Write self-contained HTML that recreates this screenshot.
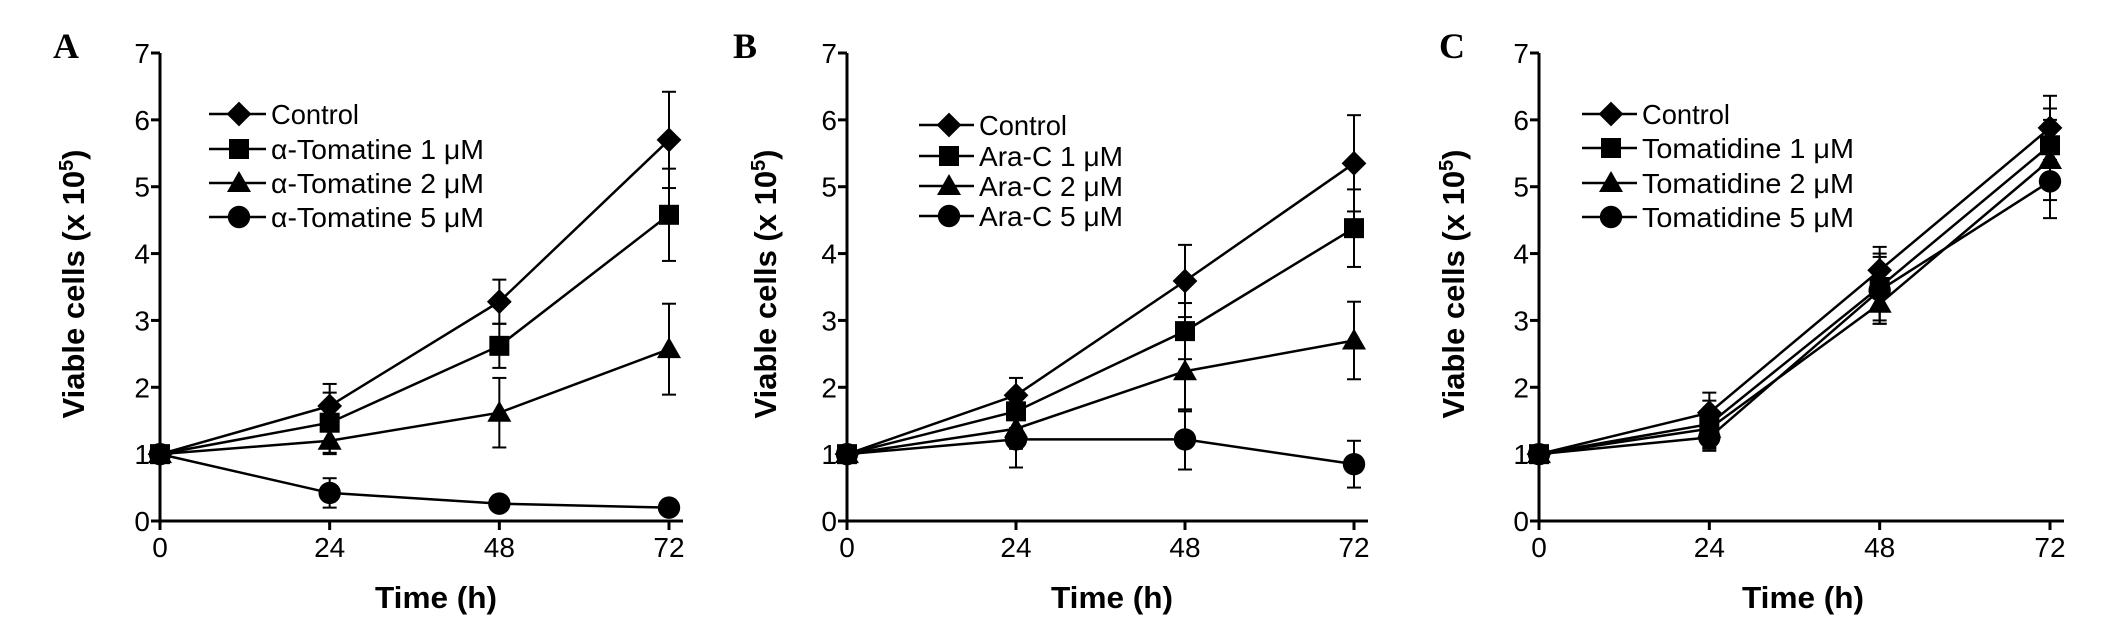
<!DOCTYPE html>
<html><head><meta charset="utf-8"><style>
html,body{margin:0;padding:0;background:#fff;}
svg{display:block;}
text{font-family:"Liberation Sans",sans-serif;fill:#000;}
</style></head><body>
<svg id="fig" width="2126" height="628" viewBox="0 0 2126 628" xmlns="http://www.w3.org/2000/svg"></svg>
<script>
const timePoints = [0, 24, 48, 72];
const yTicks = [0, 1, 2, 3, 4, 5, 6, 7];
const markerShapes = ["diamond", "square", "triangle", "circle"];

const labelsA = ["Control", "α-Tomatine 1 μM", "α-Tomatine 2 μM", "α-Tomatine 5 μM"];
const controlA = [1, 1.72, 3.28, 5.7];
const tom1A = [1, 1.47, 2.62, 4.58];
const tom2A = [1, 1.2, 1.62, 2.57];
const tom5A = [1, 0.42, 0.26, 0.2];
const errControlA = [0, 0.33, 0.33, 0.72];
const errTom1A = [0, 0.45, 0.33, 0.69];
const errTom2A = [0, 0.2, 0.52, 0.68];
const errTom5A = [0, 0.22, 0.05, 0.05];

const labelsB = ["Control", "Ara-C 1 μM", "Ara-C 2 μM", "Ara-C 5 μM"];
const controlB = [1, 1.88, 3.59, 5.35];
const ara1B = [1, 1.64, 2.84, 4.38];
const ara2B = [1, 1.38, 2.24, 2.7];
const ara5B = [1, 1.22, 1.22, 0.85];
const errControlB = [0, 0.26, 0.54, 0.72];
const errAra1B = [0, 0.25, 0.42, 0.58];
const errAra2B = [0, 0.3, 0.6, 0.58];
const errAra5B = [0, 0.42, 0.45, 0.35];

const labelsC = ["Control", "Tomatidine 1 μM", "Tomatidine 2 μM", "Tomatidine 5 μM"];
const controlC = [1, 1.62, 3.75, 5.88];
const tomd1C = [1, 1.45, 3.5, 5.62];
const tomd2C = [1, 1.38, 3.25, 5.4];
const tomd5C = [1, 1.25, 3.45, 5.08];
const errControlC = [0, 0.3, 0.35, 0.48];
const errTomd1C = [0, 0.35, 0.5, 0.55];
const errTomd2C = [0, 0.3, 0.3, 0.6];
const errTomd5C = [0, 0.2, 0.5, 0.55];

const NS = "http://www.w3.org/2000/svg";
const svg = document.getElementById("fig");
function el(tag, attrs, parent) {
  const e = document.createElementNS(NS, tag);
  for (const k in attrs) e.setAttribute(k, attrs[k]);
  (parent || svg).appendChild(e);
  return e;
}
function marker(g, shape, cx, cy, s) {
  let m;
  if (shape === "diamond") m = el("polygon", {points: `${cx},${cy-s*0.62} ${cx+s*0.62},${cy} ${cx},${cy+s*0.62} ${cx-s*0.62},${cy}`}, g);
  else if (shape === "square") m = el("rect", {x: cx-s/2, y: cy-s/2, width: s, height: s}, g);
  else if (shape === "triangle") m = el("polygon", {points: `${cx},${cy-s*0.6} ${cx+s*0.6},${cy+s*0.45} ${cx-s*0.6},${cy+s*0.45}`}, g);
  else m = el("circle", {cx: cx, cy: cy, r: s*0.56}, g);
  m.setAttribute("fill", "#000");
  return m;
}

const panels = [
  {id: "a", letter: "A", letterX: 53, x0: 160, x72: 669, titleX: 73, timeX: 436,
   labels: labelsA, series: [controlA, tom1A, tom2A, tom5A], errs: [errControlA, errTom1A, errTom2A, errTom5A],
   legX1: 209, legX2: 266, legM: 239, legT: 271, legY: [114, 149, 183, 217], legW: [88, 213, 213, 213]},
  {id: "b", letter: "B", letterX: 733, x0: 847, x72: 1354, titleX: 765, timeX: 1112,
   labels: labelsB, series: [controlB, ara1B, ara2B, ara5B], errs: [errControlB, errAra1B, errAra2B, errAra5B],
   legX1: 919, legX2: 974, legM: 949, legT: 979, legY: [125, 156, 186, 216], legW: [88, 144, 144, 144]},
  {id: "c", letter: "C", letterX: 1439, x0: 1539, x72: 2050, titleX: 1453, timeX: 1803,
   labels: labelsC, series: [controlC, tomd1C, tomd2C, tomd5C], errs: [errControlC, errTomd1C, errTomd2C, errTomd5C],
   legX1: 1582, legX2: 1637, legM: 1611, legT: 1642, legY: [114, 148, 183, 217], legW: [88, 212, 212, 212]}
];
const y0 = 521, y7 = 53;
panels.forEach(p => {
  const g = el("g", {});
  
  
  const xs = t => p.x0 + (t / 72) * (p.x72 - p.x0);
  const ys = v => y0 - (v / 7) * (y0 - y7);

  const L = el("text", {x: p.letterX, y: 58, "font-size": 36, "font-weight": "bold", style: "font-family:'Liberation Serif',serif"}, g);
  L.textContent = p.letter;
  
  

  const ya = el("line", {x1: p.x0, y1: y7, x2: p.x0, y2: y0 + 1.5, stroke: "#000", "stroke-width": 3}, g);
  
  
  const xa = el("line", {x1: p.x0 - 1.5, y1: y0, x2: p.x72 + 14, y2: y0, stroke: "#000", "stroke-width": 3}, g);
  
  
  yTicks.forEach(v => {
    el("line", {x1: p.x0 - 9, y1: ys(v), x2: p.x0, y2: ys(v), stroke: "#000", "stroke-width": 3}, g);
    const t = el("text", {x: p.x0 - 10, y: ys(v) + 10, "font-size": 28, "text-anchor": "end"}, g);
    t.textContent = v;
    
    
  });
  timePoints.forEach(tp => {
    el("line", {x1: xs(tp), y1: y0, x2: xs(tp), y2: y0 + 9, stroke: "#000", "stroke-width": 3}, g);
    const t = el("text", {x: xs(tp), y: 557, "font-size": 28, "text-anchor": "middle"}, g);
    t.textContent = tp;
    
    
  });
  const xt = el("text", {x: p.timeX, y: 608, "font-size": 31, "font-weight": "bold", "text-anchor": "middle", textLength: 122, lengthAdjust: "spacingAndGlyphs"}, g);
  xt.textContent = "Time (h)";
  
  
  const yt = el("text", {x: 0, y: 0, "font-size": 31, "font-weight": "bold", "text-anchor": "middle", transform: `translate(${p.titleX + 11},284) rotate(-90)`}, g);
  yt.innerHTML = 'Viable cells (x 10<tspan dy="-11" font-size="20">5</tspan><tspan dy="11">)</tspan>';
  
  

  p.series.forEach((vals, si) => {
    const sg = el("g", {}, g);
    
    
    const pts = vals.map((v, i) => `${xs(timePoints[i])},${ys(v)}`).join(" ");
    el("polyline", {points: pts, fill: "none", stroke: "#000", "stroke-width": 2.5}, sg);
    vals.forEach((v, i) => {
      const e = p.errs[si][i];
      if (e > 0) {
        const cx = xs(timePoints[i]);
        el("line", {x1: cx, y1: ys(v + e), x2: cx, y2: ys(v - e), stroke: "#000", "stroke-width": 2}, sg);
        el("line", {x1: cx - 7, y1: ys(v + e), x2: cx + 7, y2: ys(v + e), stroke: "#000", "stroke-width": 2}, sg);
        el("line", {x1: cx - 7, y1: ys(v - e), x2: cx + 7, y2: ys(v - e), stroke: "#000", "stroke-width": 2}, sg);
      }
    });
    vals.forEach((v, i) => {
      const m = marker(sg, markerShapes[si], xs(timePoints[i]), ys(v), 20);
      
      
    });
  });

  p.labels.forEach((lab, li) => {
    const lg = el("g", {}, g);
    
    
    const yy = p.legY[li];
    el("line", {x1: p.legX1, y1: yy, x2: p.legX2, y2: yy, stroke: "#000", "stroke-width": 2.5}, lg);
    marker(lg, markerShapes[li], p.legM, yy, 20);
    const t = el("text", {x: p.legT, y: yy + 10, "font-size": 28, textLength: p.legW[li], lengthAdjust: "spacingAndGlyphs"}, lg);
    t.textContent = lab;
  });
});
</script>
</body></html>
